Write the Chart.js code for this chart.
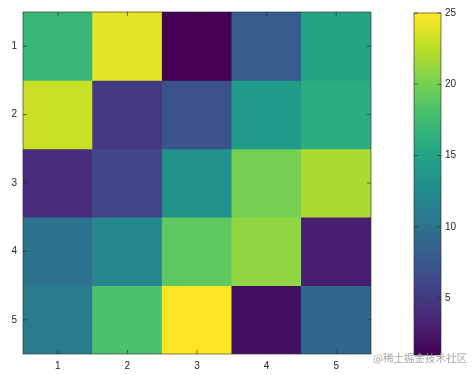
<!DOCTYPE html>
<html>
<head>
<meta charset="utf-8">
<script src="https://cdn.jsdelivr.net/npm/chart.js@4/dist/chart.umd.min.js"></script>
<style>
  body { margin: 0; background: #fff; }
  #page { position: relative; width: 474px; height: 375px; overflow: hidden; }
  #heatBox { position: absolute; left: 0; top: 0; width: 380px; height: 375px; }
  #barBox { position: absolute; left: 400px; top: 0; width: 74px; height: 375px; }
  #mark {
    position: absolute; left: 373px; top: 350px;
    font: 10.5px "Noto Sans CJK SC", sans-serif; color: rgba(150,150,150,0.85);
    white-space: nowrap;
  }
</style>
</head>
<body>
<div id="page">
  <div id="heatBox"><canvas id="heat"></canvas></div>
  <div id="barBox"><canvas id="cbar"></canvas></div>
  <div id="mark">@稀土掘金技术社区</div>
</div>
<script>
/* DATA (magic square, rows top to bottom) */
var columns = ["1", "2", "3", "4", "5"];
var rowTicks = [1, 2, 3, 4, 5];
var row1 = [17, 24, 1, 8, 15];
var row2 = [23, 5, 7, 14, 16];
var row3 = [4, 6, 13, 20, 22];
var row4 = [10, 12, 19, 21, 3];
var row5 = [11, 18, 25, 2, 9];
var rows = [row1, row2, row3, row4, row5];
var colorTicks = [5, 10, 15, 20, 25];
var cmin = 1;
var cmax = 25;

/* COLORMAP (viridis) */
var viridis = ["#440154", "#482475", "#414487", "#355f8d", "#2a788e", "#21918c",
  "#22a884", "#44bf70", "#7ad151", "#bddf26", "#fde725"];

function hexToRgb(h) {
  return [parseInt(h.substr(1, 2), 16), parseInt(h.substr(3, 2), 16), parseInt(h.substr(5, 2), 16)];
}

function colorFor(v) {
  var t = Math.min(1, Math.max(0, (v - cmin) / (cmax - cmin))) * (viridis.length - 1);
  var i = Math.min(viridis.length - 2, Math.floor(t));
  var f = t - i;
  var a = hexToRgb(viridis[i]);
  var b = hexToRgb(viridis[i + 1]);
  var c = a.map(function (x, k) { return Math.round(x + (b[k] - x) * f); });
  return "rgb(" + c.join(",") + ")";
}

var axisColor = "#262626";
var tickFont = { family: "'Liberation Sans', Arial, sans-serif", size: 10 };

// box around the chart area plus inward tick marks (MATLAB style)
var boxTicks = {
  id: "boxTicks",
  afterDatasetsDraw: function (chart, args, opts) {
    var ctx = chart.ctx;
    var a = chart.chartArea;
    var len = 4;
    ctx.save();
    ctx.strokeStyle = axisColor;
    ctx.lineWidth = 0.6;
    ctx.strokeRect(a.left, a.top, a.right - a.left, a.bottom - a.top);
    ctx.beginPath();
    if (opts.xTicks) {
      var xs = chart.scales.x;
      xs.ticks.forEach(function (t, i) {
        var px = xs.getPixelForTick(i);
        ctx.moveTo(px, a.bottom); ctx.lineTo(px, a.bottom - len);
        ctx.moveTo(px, a.top); ctx.lineTo(px, a.top + len);
      });
    }
    var ys = chart.scales.y;
    ys.ticks.forEach(function (t) {
      var py = ys.getPixelForValue(t.value);
      ctx.moveTo(a.left, py); ctx.lineTo(a.left + len, py);
      ctx.moveTo(a.right, py); ctx.lineTo(a.right - len, py);
    });
    ctx.stroke();
    ctx.restore();
  }
};

/* HEATMAP */
var heatSets = rows.map(function (row, r) {
  return {
    data: row.map(function () { return [rowTicks[r] - 0.5, rowTicks[r] + 0.5]; }),
    backgroundColor: row.map(colorFor),
    borderWidth: 0,
    grouped: false,
    categoryPercentage: 1,
    barPercentage: 1,
  };
});

new Chart("heat", {
  type: "bar",
  data: { labels: columns, datasets: heatSets },
  options: {
    responsive: true,
    maintainAspectRatio: false,
    animation: false,
    layout: { padding: { top: 12, right: 9, left: 0, bottom: 0 } },
    plugins: { legend: { display: false }, tooltip: { enabled: false }, boxTicks: { xTicks: true } },
    scales: {
      x: {
        grid: { display: false, drawTicks: false },
        border: { display: false },
        ticks: { color: axisColor, font: tickFont, padding: 6, maxRotation: 0 },
        afterFit: function (s) { s.height = 21; },
      },
      y: {
        type: "linear",
        reverse: true,
        min: 0.5,
        max: 5.5,
        grid: { display: false, drawTicks: false },
        border: { display: false },
        ticks: { color: axisColor, font: tickFont, padding: 6 },
        afterBuildTicks: function (s) { s.ticks = rowTicks.map(function (v) { return { value: v }; }); },
        afterFit: function (s) { s.width = 23; },
      },
    },
  },
  plugins: [boxTicks],
});

/* COLORBAR */
new Chart("cbar", {
  type: "bar",
  data: {
    labels: [""],
    datasets: [{
      data: [[cmin, cmax]],
      borderWidth: 0,
      categoryPercentage: 1,
      barPercentage: 1,
      backgroundColor: function (c) {
        var chart = c.chart;
        if (!chart.chartArea) return viridis[5];
        var ys = chart.scales.y;
        var g = chart.ctx.createLinearGradient(0, ys.getPixelForValue(cmin), 0, ys.getPixelForValue(cmax));
        viridis.forEach(function (h, i) { g.addColorStop(i / (viridis.length - 1), h); });
        return g;
      },
    }],
  },
  options: {
    responsive: true,
    maintainAspectRatio: false,
    animation: false,
    layout: { padding: { top: 13, right: 0, left: 14, bottom: 20 } },
    plugins: { legend: { display: false }, tooltip: { enabled: false }, boxTicks: { xTicks: false } },
    scales: {
      x: { display: false },
      y: {
        position: "right",
        min: cmin,
        max: cmax,
        grid: { display: false, drawTicks: false },
        border: { display: false },
        ticks: { color: axisColor, font: tickFont, padding: 4 },
        afterBuildTicks: function (s) { s.ticks = colorTicks.map(function (v) { return { value: v }; }); },
        afterFit: function (s) { s.width = 33; },
      },
    },
  },
  plugins: [boxTicks],
});
</script>
</body>
</html>
